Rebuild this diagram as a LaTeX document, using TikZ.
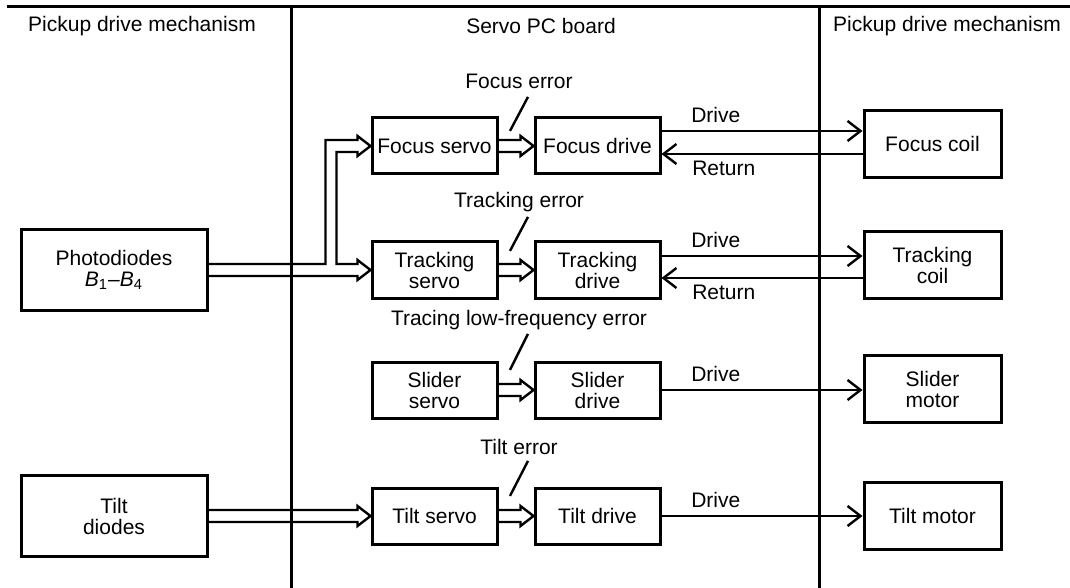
\documentclass[tikz,border=0pt]{standalone}
\usepackage{fontspec}
\setmainfont{Liberation Sans}
\usetikzlibrary{arrows.meta,calc}

% hollow block arrow between two anchors on one level
\newcommand{\fatarrow}[2]{%
  \draw[fat] ($(#1)+(0,-6)$) -- ($(#2)+(-13,-6)$) -- ++(0,-4) -- (#2)
    -- ($(#2)+(-13,10)$) -- ++(0,-4) -- ($(#1)+(0,6)$);}

\begin{document}
\begin{tikzpicture}[x=0.5pt, y=-0.5pt,
    >={Straight Barb[length=6.5pt, width=10pt]},
    every node/.style={font=\fontsize{10.5}{10.5}\selectfont},
    blk/.style={draw, line width=1.5pt, align=center, inner sep=1pt,
                minimum width=62.5pt, minimum height=28pt},
    coil/.style={blk, minimum width=68.5pt, minimum height=33.5pt},
    src/.style={blk, minimum width=93pt, minimum height=40.5pt},
    lbl/.style={inner sep=1pt, text height=8pt, text depth=2.5pt},
    sig/.style={->, line width=1.2pt},
    fat/.style={line width=1.2pt, line join=miter},
    pointer/.style={line width=1.2pt},
    divider/.style={line width=1.5pt}]

  \useasboundingbox (0,0) rectangle (1070,588);

  % frame
  \draw[divider] (7,7) -- (1070,7);
  \draw[divider] (291,7) -- (291,588);
  \draw[divider] (819,7) -- (819,588);

  \node (hleft)  at (142,26) {Pickup drive mechanism};
  \node (hmid)   at (541,26) {Servo PC board};
  \node (hright) at (947,26) {Pickup drive mechanism};

  % sources
  \node[src] (photo)  at (114,270) {Photodiodes\\\textit{B}\textsubscript{1}--\textit{B}\textsubscript{4}};
  \node[src] (tdiode) at (114,516) {Tilt\\diodes};

  % servo board
  \node[blk] (fservo)  at (434.5,146) {Focus servo};
  \node[blk] (fdrive)  at (597.5,146) {Focus drive};
  \node[blk] (tservo)  at (434.5,270) {Tracking\\servo};
  \node[blk] (tdrive)  at (597.5,270) {Tracking\\drive};
  \node[blk] (sservo)  at (434.5,390) {Slider\\servo};
  \node[blk] (sdrive)  at (597.5,390) {Slider\\drive};
  \node[blk] (tiservo) at (434.5,516) {Tilt servo};
  \node[blk] (tidrive) at (597.5,516) {Tilt drive};

  % actuators
  \node[coil] (fcoil)  at (932.5,144) {Focus coil};
  \node[coil] (tcoil)  at (932.5,265) {Tracking\\coil};
  \node[coil] (smotor) at (932.5,389) {Slider\\motor};
  \node[coil] (tmotor) at (932.5,516) {Tilt motor};

  % error labels
  \node[lbl] (ferr)  at (519,83)  {Focus error};
  \node[lbl] (terr)  at (519,202) {Tracking error};
  \node[lbl] (serr)  at (519,320) {Tracing low-frequency error};
  \node[lbl] (tierr) at (519,449) {Tilt error};

  \draw[pointer] (ferr.south)  ++(9,1) -- ++(-18,34);
  \draw[pointer] (terr.south)  ++(9,2) -- ++(-18,34);
  \draw[pointer] (serr.south)  ++(9,1) -- ++(-18,36);
  \draw[pointer] (tierr.south) ++(9,-1) -- ++(-18,35);

  % photodiodes to focus and tracking servo
  \draw[fat] ($(photo.east)+(0,-6)$) -| ($(fservo.west)+(-45,-6)$)
    -- ($(fservo.west)+(-13,-6)$) -- ++(0,-4) -- (fservo.west)
    -- ($(fservo.west)+(-13,10)$) -- ++(0,-4)
    -- ($(fservo.west)+(-34,6)$) |- ($(tservo.west)+(-13,-6)$)
    -- ++(0,-4) -- (tservo.west) -- ($(tservo.west)+(-13,10)$)
    -- ++(0,-4) -- ($(photo.east)+(0,6)$);

  \fatarrow{tdiode.east}{tiservo.west}
  \fatarrow{fservo.east}{fdrive.west}
  \fatarrow{tservo.east}{tdrive.west}
  \fatarrow{sservo.east}{sdrive.west}
  \fatarrow{tiservo.east}{tidrive.west}

  % drive and return lines
  \coordinate (fd) at ($(fdrive.east)+(0,-15)$);
  \coordinate (fr) at ($(fdrive.east)+(0,8)$);
  \coordinate (td) at ($(tdrive.east)+(0,-14)$);
  \coordinate (tr) at ($(tdrive.east)+(0,8)$);

  \draw[sig] (fd) -- node[lbl, above, pos=0.27] (fdl) {Drive} (fd -| fcoil.west);
  \draw[sig] (fr -| fcoil.west) -- node[lbl, below=1pt, pos=0.69] (frl) {Return} (fr);
  \draw[sig] (td) -- node[lbl, above, pos=0.27] (tdl) {Drive} (td -| tcoil.west);
  \draw[sig] (tr -| tcoil.west) -- node[lbl, below=1pt, pos=0.69] (trl) {Return} (tr);
  \draw[sig] (sdrive.east) -- node[lbl, above, pos=0.27] (sdl) {Drive} (sdrive.east -| smotor.west);
  \draw[sig] (tidrive.east) -- node[lbl, above, pos=0.27] (tidl) {Drive} (tidrive.east -| tmotor.west);
\end{tikzpicture}
\end{document}
